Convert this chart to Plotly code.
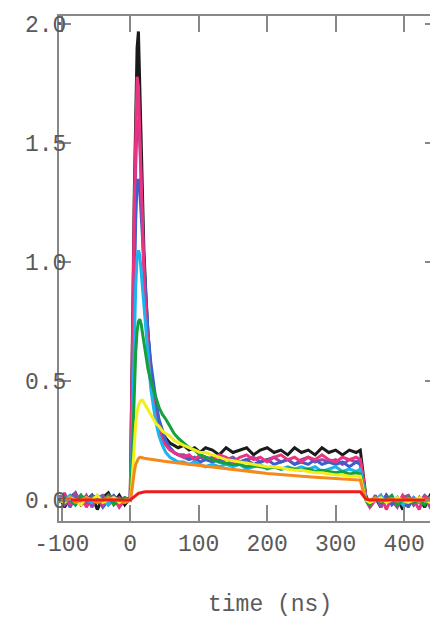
import plotly.graph_objects as go

# time axis (ns)
TIME = [-104, -96, -88, -80, -72, -64, -56, -48, -40, -32, -24, -16, -8, 0,
        2, 4, 6, 8, 10, 12, 14, 16, 18, 20, 23, 26, 30, 34, 38, 42, 47, 52, 58, 64, 70,
        78, 86, 94, 102, 110, 120, 130, 140, 150, 160, 170, 180, 190, 200, 210, 220, 230,
        240, 250, 260, 270, 280, 290, 300, 310, 320, 330, 336,
        340, 344, 350, 358, 366, 374, 382, 390, 398, 406, 414, 422, 430, 438, 448]

BLACK = [0.02, -0.03, 0.01, 0.03, -0.02, 0.00, 0.02, -0.04, 0.01, 0.03, -0.01, 0.02, -0.02, 0.01,
         0.35, 0.85, 1.30, 1.65, 1.90, 1.97, 1.72, 1.45, 1.22, 1.05, 0.86, 0.70, 0.55, 0.45, 0.37, 0.32, 0.28, 0.26, 0.24, 0.23, 0.22,
         0.23, 0.21, 0.22, 0.20, 0.22, 0.21, 0.19, 0.22, 0.20, 0.21, 0.22, 0.19, 0.21, 0.22, 0.20, 0.21, 0.19,
         0.22, 0.20, 0.21, 0.19, 0.22, 0.20, 0.21, 0.19, 0.21, 0.20, 0.21,
         0.12, 0.02, -0.02, 0.01, -0.03, 0.02, -0.01, 0.01, -0.04, 0.02, -0.02, 0.01, -0.03, 0.02, 0.00]

MAGENTA = [-0.01, 0.03, -0.02, 0.00, 0.02, -0.03, 0.01, 0.00, -0.02, 0.02, 0.01, -0.03, 0.00, 0.01,
           0.33, 0.80, 1.25, 1.58, 1.78, 1.74, 1.52, 1.30, 1.10, 0.95, 0.78, 0.63, 0.49, 0.40, 0.33, 0.29, 0.25, 0.23, 0.21, 0.20, 0.19,
           0.18, 0.19, 0.17, 0.19, 0.18, 0.17, 0.19, 0.18, 0.16, 0.18, 0.19, 0.17, 0.18, 0.16, 0.18, 0.19, 0.17,
           0.18, 0.16, 0.18, 0.17, 0.19, 0.17, 0.16, 0.18, 0.17, 0.18, 0.17,
           0.10, 0.01, -0.03, 0.00, 0.02, -0.04, 0.01, -0.02, 0.02, -0.01, 0.00, -0.04, 0.02, -0.02, 0.01]

PURPLE = [0.02, -0.02, 0.00, 0.03, -0.01, 0.02, -0.03, 0.01, 0.02, -0.02, 0.00, 0.01, -0.01, 0.00,
          0.28, 0.70, 1.10, 1.40, 1.58, 1.60, 1.50, 1.32, 1.14, 0.98, 0.82, 0.68, 0.54, 0.44, 0.36, 0.31, 0.27, 0.24, 0.22, 0.20, 0.19,
          0.19, 0.18, 0.17, 0.18, 0.17, 0.18, 0.16, 0.17, 0.18, 0.16, 0.17, 0.18, 0.16, 0.17, 0.18, 0.16, 0.17,
          0.15, 0.17, 0.18, 0.16, 0.17, 0.16, 0.17, 0.15, 0.17, 0.16, 0.17,
          0.09, 0.01, -0.02, 0.02, -0.03, 0.01, 0.00, -0.03, 0.01, 0.02, -0.02, 0.00, 0.01, -0.03, 0.00]

BLUE = [0.00, 0.02, -0.03, 0.01, 0.00, -0.02, 0.02, 0.01, -0.03, 0.00, 0.02, -0.01, 0.01, 0.00,
        0.22, 0.58, 0.92, 1.18, 1.32, 1.35, 1.30, 1.20, 1.08, 0.96, 0.82, 0.70, 0.58, 0.49, 0.41, 0.34, 0.29, 0.25, 0.22, 0.20, 0.19,
        0.18, 0.17, 0.18, 0.16, 0.17, 0.16, 0.17, 0.15, 0.17, 0.16, 0.17, 0.15, 0.16, 0.17, 0.15, 0.16, 0.17,
        0.15, 0.16, 0.15, 0.17, 0.15, 0.16, 0.15, 0.16, 0.14, 0.16, 0.15,
        0.08, 0.00, -0.03, 0.01, -0.01, 0.02, -0.02, 0.00, 0.01, -0.03, 0.01, -0.01, 0.02, 0.00, -0.02]

CYAN = [0.01, 0.00, 0.02, -0.02, 0.01, 0.00, -0.01, 0.02, 0.00, -0.02, 0.01, 0.00, -0.01, 0.01,
        0.15, 0.42, 0.70, 0.90, 1.02, 1.05, 1.03, 0.96, 0.88, 0.80, 0.68, 0.58, 0.47, 0.39, 0.32, 0.27, 0.23, 0.20, 0.18, 0.17, 0.16,
        0.16, 0.15, 0.16, 0.15, 0.14, 0.15, 0.14, 0.15, 0.14, 0.15, 0.13, 0.14, 0.15, 0.13, 0.14, 0.13, 0.14,
        0.13, 0.14, 0.13, 0.14, 0.12, 0.13, 0.14, 0.12, 0.13, 0.12, 0.13,
        0.07, 0.01, -0.01, 0.00, 0.02, -0.01, 0.00, 0.01, -0.02, 0.00, 0.01, -0.01, 0.00, 0.01, -0.01]

GREEN = [-0.01, 0.01, 0.00, -0.02, 0.02, 0.00, 0.01, -0.01, 0.00, 0.02, -0.02, 0.00, 0.01, 0.00,
         0.10, 0.28, 0.47, 0.62, 0.71, 0.75, 0.76, 0.74, 0.70, 0.66, 0.60, 0.55, 0.50, 0.46, 0.42, 0.39, 0.36, 0.34, 0.31, 0.28, 0.26,
         0.24, 0.22, 0.21, 0.19, 0.18, 0.17, 0.16, 0.155, 0.15, 0.15, 0.14, 0.145, 0.14, 0.135, 0.14, 0.13, 0.135,
         0.13, 0.125, 0.13, 0.12, 0.125, 0.12, 0.115, 0.12, 0.11, 0.115, 0.11,
         0.06, 0.00, -0.02, 0.01, -0.01, 0.00, 0.02, -0.02, 0.00, 0.01, -0.01, 0.00, -0.02, 0.01, 0.00]

YELLOW = [0.00, -0.01, 0.01, 0.00, -0.02, 0.01, 0.00, 0.02, -0.01, 0.00, 0.01, -0.01, 0.00, 0.00,
          0.05, 0.14, 0.24, 0.32, 0.37, 0.40, 0.41, 0.42, 0.42, 0.41, 0.40, 0.38, 0.36, 0.34, 0.32, 0.31, 0.29, 0.28, 0.27, 0.25, 0.24,
          0.23, 0.22, 0.21, 0.20, 0.20, 0.19, 0.18, 0.17, 0.165, 0.16, 0.155, 0.15, 0.145, 0.14, 0.14, 0.135, 0.13,
          0.125, 0.125, 0.12, 0.115, 0.115, 0.11, 0.105, 0.105, 0.10, 0.10, 0.10,
          0.05, 0.00, -0.01, 0.00, 0.01, -0.01, 0.00, 0.01, 0.00, -0.01, 0.00, 0.01, 0.00, -0.01, 0.00]

ORANGE = [0.00, 0.00, 0.01, -0.01, 0.00, 0.01, 0.00, -0.01, 0.00, 0.01, 0.00, 0.00, -0.01, 0.00,
          0.03, 0.08, 0.12, 0.15, 0.165, 0.175, 0.18, 0.18, 0.178, 0.176, 0.175, 0.173, 0.172, 0.17, 0.168, 0.166, 0.164, 0.162, 0.16, 0.157, 0.155,
          0.152, 0.15, 0.147, 0.145, 0.142, 0.138, 0.134, 0.13, 0.127, 0.124, 0.121, 0.118, 0.115, 0.112, 0.11, 0.107, 0.105,
          0.103, 0.10, 0.098, 0.096, 0.094, 0.092, 0.09, 0.088, 0.086, 0.085, 0.084,
          0.04, 0.005, 0.00, 0.01, -0.005, 0.00, 0.005, -0.005, 0.00, 0.005, 0.00, -0.005, 0.00, 0.005, 0.00]

RED = [0.00, 0.00, 0.00, 0.00, 0.00, 0.00, 0.00, 0.00, 0.00, 0.00, 0.00, 0.00, 0.00, 0.00,
       0.005, 0.01, 0.015, 0.02, 0.025, 0.028, 0.03, 0.032, 0.033, 0.034, 0.035, 0.035, 0.035, 0.035, 0.035, 0.035, 0.035, 0.035, 0.035, 0.035, 0.035,
       0.035, 0.035, 0.035, 0.035, 0.035, 0.035, 0.035, 0.035, 0.035, 0.035, 0.035, 0.035, 0.035, 0.035, 0.035, 0.035, 0.035,
       0.035, 0.035, 0.035, 0.035, 0.035, 0.035, 0.035, 0.035, 0.035, 0.035, 0.035,
       0.02, 0.005, 0.00, 0.00, 0.00, 0.00, 0.00, 0.00, 0.00, 0.00, 0.00, 0.00, 0.00, 0.00, 0.00]

SERIES = [
    ("black", BLACK, "#1a1a1a"),
    ("purple", PURPLE, "#9a4aa8"),
    ("blue", BLUE, "#3d5fcc"),
    ("magenta", MAGENTA, "#ea3482"),
    ("cyan", CYAN, "#1ab4ee"),
    ("green", GREEN, "#14a03c"),
    ("yellow", YELLOW, "#f2ee1c"),
    ("orange", ORANGE, "#f5891c"),
    ("red", RED, "#ee1c1c"),
]

Y_TICKS = [0.0, 0.5, 1.0, 1.5, 2.0]
Y_TICK_TEXT = ["0.0", "0.5", "1.0", "1.5", "2.0"]
X_TICKS = [-100, 0, 100, 200, 300, 400]
X_TICK_TEXT = ["-100", "0", "100", "200", "300", "400"]

fig = go.Figure()
for name, vals, col in SERIES:
    assert len(vals) == len(TIME), name
    fig.add_trace(go.Scatter(x=TIME, y=vals, mode="lines", name=name,
                             line=dict(color=col, width=3), showlegend=False))

FONT = dict(family="Liberation Mono, Courier New, monospace", size=23, color="#5a5a5a")

# the page body adds an 8px margin, so the figure is sized to fit the remaining area
fig.update_layout(
    width=430, height=613,
    margin=dict(l=51, r=1, t=8, b=100),
    paper_bgcolor="white", plot_bgcolor="white",
    font=FONT,
    xaxis=dict(range=[-104, 448], tickvals=X_TICKS, ticktext=X_TICK_TEXT,
               ticks="inside", ticklen=16, tickwidth=2, tickcolor="#888888",
               showline=True, linewidth=2, linecolor="#888888", mirror="ticks",
               showgrid=False, zeroline=False, tickfont=FONT, automargin=False),
    yaxis=dict(range=[-0.088, 2.035], tickvals=Y_TICKS, ticktext=Y_TICK_TEXT,
               ticks="inside", ticklen=12, tickwidth=2, tickcolor="#888888",
               showline=True, linewidth=2, linecolor="#888888", mirror="ticks",
               showgrid=False, zeroline=False, tickfont=FONT, ticklabelstandoff=-14,
               automargin=False),
    annotations=[dict(text="time (ns)", xref="paper", yref="paper", x=0.558, y=-0.167,
                      xanchor="center", yanchor="middle", showarrow=False, font=FONT)],
)

fig.write_html("out.html")
